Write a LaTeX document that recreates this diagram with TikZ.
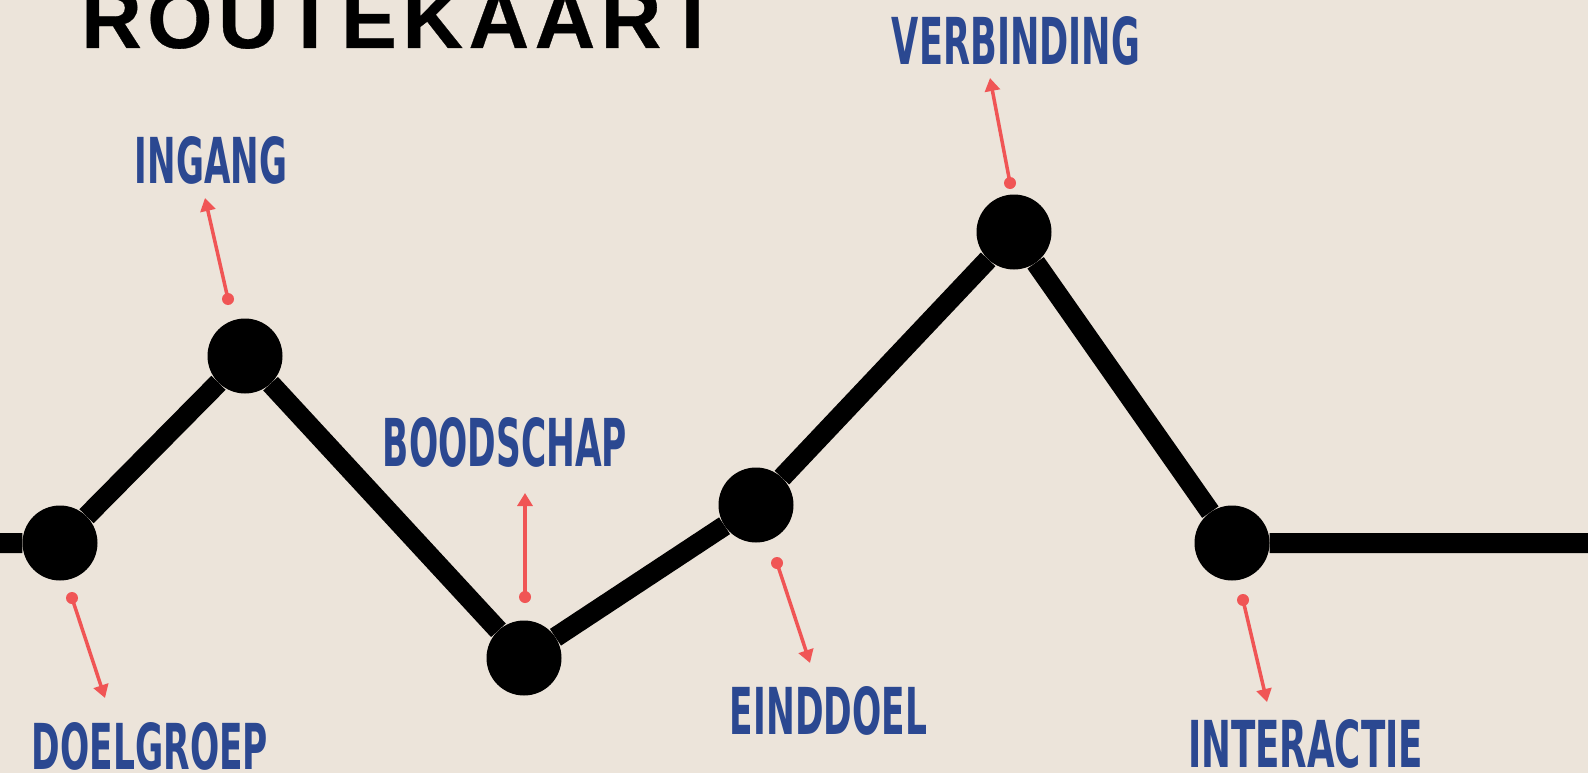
\documentclass[tikz,border=0pt]{standalone}
\usepackage{fontspec}
\usepackage{graphicx}
\setmainfont{Liberation Sans}
\newfontfamily\labfont{DejaVu Sans Condensed}
\newfontfamily\titlefont[FakeBold=0.4]{Liberation Sans Bold}
\usetikzlibrary{arrows.meta}
\definecolor{bg}{RGB}{236,228,218}
\definecolor{lblue}{RGB}{43,72,145}
\definecolor{lred}{RGB}{240,85,85}
\tikzset{
  stop/.style={circle,fill=black,inner sep=0pt,minimum size=75pt},
  route/.style={line width=20pt,black},
  lbl/.style={inner sep=0pt,text=lblue},
  pin/.style={circle,fill=lred,inner sep=0pt,minimum size=12pt},
  pointer/.style={lred,line width=3.5pt,-{Triangle[width=15pt,length=13pt]},shorten <=-6pt}
}
\newcommand{\lab}[3]{\resizebox{#1pt}{#2pt}{\labfont\bfseries #3}}
\begin{document}
\begin{tikzpicture}[x=1pt,y=-1pt]
\useasboundingbox (0,0) rectangle (1588,773);
\clip (0,0) rectangle (1588,773);
\fill[bg] (0,0) rectangle (1588,773);

% title
\node[anchor=base west,inner sep=0pt] (title) at (81,48)
  {\fontsize{84}{84}\titlefont\addfontfeature{LetterSpace=6.5}ROUTEKAART};

% stops
\coordinate (L) at (0,543);
\coordinate (R) at (1588,543);
\node[stop] (A) at (60,543) {};
\node[stop] (B) at (245,356) {};
\node[stop] (C) at (524,658) {};
\node[stop] (D) at (756,505) {};
\node[stop] (E) at (1014,232) {};
\node[stop] (F) at (1232,543) {};
\draw[route] (L) -- (A) -- (B) -- (C) -- (D) -- (E) -- (F) -- (R);

% labels
\node[lbl] (ingang) at (211,160.5) {\lab{152}{47}{INGANG}};
\node[lbl] (doelgroep) at (150,746.5) {\lab{236}{47}{DOELGROEP}};
\node[lbl] (boodschap) at (505,442.5) {\lab{244}{49}{BOODSCHAP}};
\node[lbl] (einddoel) at (828.5,711) {\lab{197}{48}{EINDDOEL}};
\node[lbl] (verbinding) at (1016,41) {\lab{248}{48}{VERBINDING}};
\node[lbl] (interactie) at (1305.5,744) {\lab{235}{48}{INTERACTIE}};

% pointers
\node[pin] (pA) at (72,598) {};
\coordinate (tA) at (105,698);
\node[pin] (pB) at (228,299) {};
\coordinate (tB) at (205,198);
\node[pin] (pC) at (525,597) {};
\coordinate (tC) at (525,493);
\node[pin] (pD) at (777,563) {};
\coordinate (tD) at (810,663);
\node[pin] (pE) at (1010,183) {};
\coordinate (tE) at (990,78);
\node[pin] (pF) at (1243,600) {};
\coordinate (tF) at (1267,702);
\foreach \p/\t in {pA/tA,pB/tB,pC/tC,pD/tD,pE/tE,pF/tF}
  \draw[pointer] (\p) -- (\t);
\end{tikzpicture}
\end{document}
